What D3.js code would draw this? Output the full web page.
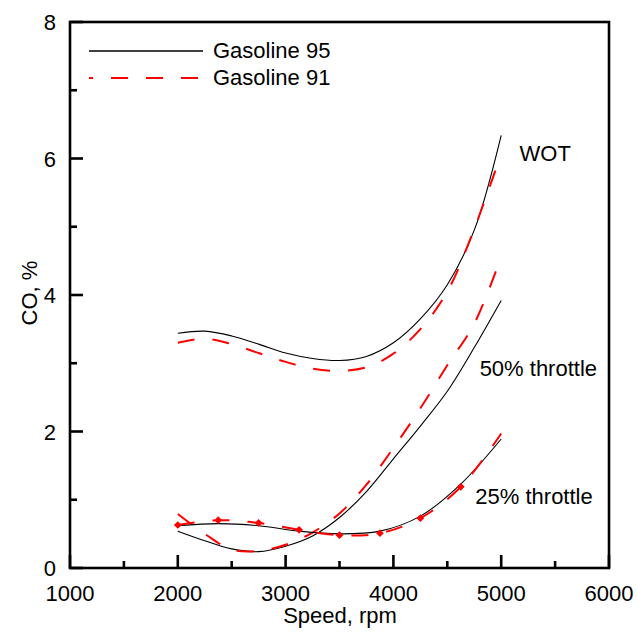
<!DOCTYPE html>
<html><head><meta charset="utf-8">
<script src="https://d3js.org/d3.v7.min.js"></script>
<style>body{margin:0;background:#fff}svg{display:block}text{font-family:"Liberation Sans",Arial,sans-serif;fill:#000}</style>
</head><body>
<script>
// Data
const rpmGrid = [2000,2250,2500,2750,3000,3250,3500,3750,4000,4250,4500,4750,5000];
const wot95 = [3.44,3.47,3.40,3.28,3.15,3.07,3.04,3.10,3.30,3.65,4.15,4.95,6.34];
const wot91 = [3.30,3.36,3.28,3.15,3.02,2.92,2.89,2.94,3.14,3.50,4.05,4.97,6.07];
const half95 = [0.54,0.40,0.28,0.24,0.32,0.47,0.74,1.12,1.60,2.08,2.59,3.23,3.92];
const half91 = [0.79,0.50,0.27,0.25,0.34,0.52,0.80,1.22,1.76,2.34,2.97,3.58,4.56];
const rpmQuarter = [2000,2375,2750,3125,3500,3875,4250,4625,5000];
const quarter95 = [0.62,0.65,0.62,0.54,0.50,0.54,0.76,1.23,1.89];
const quarter91 = [0.63,0.70,0.66,0.56,0.48,0.51,0.73,1.19,1.97];
const quarter91Markers = 8; // markers drawn on the first 8 points
const xTicks = [1000,2000,3000,4000,5000,6000];
const xMinor = [1500,2500,3500,4500,5500];
const yTicks = [0,2,4,6,8];
const yMinor = [1,3,5,7];
const seriesNames = ["Gasoline 95","Gasoline 91"];
const curveLabels = [{t:"WOT",rpm:5170,v:5.96},{t:"50% throttle",rpm:4800,v:2.81},{t:"25% throttle",rpm:4760,v:0.94}];

const W=637,H=632;
const svg=d3.select("body").append("svg").attr("width",W).attr("height",H);
const x=d3.scaleLinear().domain([1000,6000]).range([70,609]);
const y=d3.scaleLinear().domain([0,8]).range([568,22]);
const FS=22;

const line=(xs,vs)=>d3.line().curve(d3.curveCatmullRom.alpha(0.5)).x((d,i)=>x(xs[i])).y(d=>y(d))(vs);

function black(xs,vs){svg.append("path").attr("d",line(xs,vs)).attr("fill","none").attr("stroke","#000").attr("stroke-width",1.1);}
function red(xs,vs){svg.append("path").attr("d",line(xs,vs)).attr("fill","none").attr("stroke","#ff0000").attr("stroke-width",2).attr("stroke-dasharray","17,18");}

black(rpmGrid,wot95); red(rpmGrid,wot91);
black(rpmGrid,half95); red(rpmGrid,half91);
black(rpmQuarter,quarter95); red(rpmQuarter,quarter91);

svg.selectAll("path.mk").data(quarter91.slice(0,quarter91Markers)).enter().append("path")
  .attr("class","mk").attr("d",d3.symbol(d3.symbolSquare,30))
  .attr("transform",(d,i)=>`translate(${x(rpmQuarter[i])},${y(d)}) rotate(45)`).attr("fill","#ff0000");

// axes (ticks inside)
const ax=svg.append("g");
const sw=2.6;
ax.append("rect").attr("x",x(1000)).attr("y",y(8)).attr("width",x(6000)-x(1000)).attr("height",y(0)-y(8)).attr("fill","none").attr("stroke","#000").attr("stroke-width",sw);
xTicks.forEach(t=>{ax.append("line").attr("x1",x(t)).attr("x2",x(t)).attr("y1",y(0)).attr("y2",y(0)-13).attr("stroke","#000").attr("stroke-width",sw);
  ax.append("text").attr("x",x(t)).attr("y",601).attr("text-anchor","middle").attr("font-size",FS).text(t);});
xMinor.forEach(t=>ax.append("line").attr("x1",x(t)).attr("x2",x(t)).attr("y1",y(0)).attr("y2",y(0)-7).attr("stroke","#000").attr("stroke-width",sw));
yTicks.forEach(t=>{ax.append("line").attr("x1",x(1000)).attr("x2",x(1000)+13).attr("y1",y(t)).attr("y2",y(t)).attr("stroke","#000").attr("stroke-width",sw);
  ax.append("text").attr("x",56).attr("y",y(t)+8).attr("text-anchor","end").attr("font-size",FS).text(t);});
yMinor.forEach(t=>ax.append("line").attr("x1",x(1000)).attr("x2",x(1000)+7).attr("y1",y(t)).attr("y2",y(t)).attr("stroke","#000").attr("stroke-width",sw));

svg.append("text").attr("x",340).attr("y",623).attr("text-anchor","middle").attr("font-size",FS).text("Speed, rpm");
svg.append("text").attr("transform","translate(37,293) rotate(-90)").attr("text-anchor","middle").attr("font-size",FS).text("CO, %");

// legend
svg.append("line").attr("x1",89).attr("x2",203).attr("y1",51).attr("y2",51).attr("stroke","#000").attr("stroke-width",1.3);
svg.append("line").attr("x1",89).attr("x2",203).attr("y1",78).attr("y2",78).attr("stroke","#ff0000").attr("stroke-width",2).attr("stroke-dasharray","17,18").attr("stroke-dashoffset",13);
svg.append("text").attr("x",213).attr("y",58).attr("font-size",FS).text(seriesNames[0]);
svg.append("text").attr("x",213).attr("y",85).attr("font-size",FS).text(seriesNames[1]);

curveLabels.forEach(c=>svg.append("text").attr("x",x(c.rpm)).attr("y",y(c.v)).attr("font-size",FS).text(c.t));
</script>
</body></html>
